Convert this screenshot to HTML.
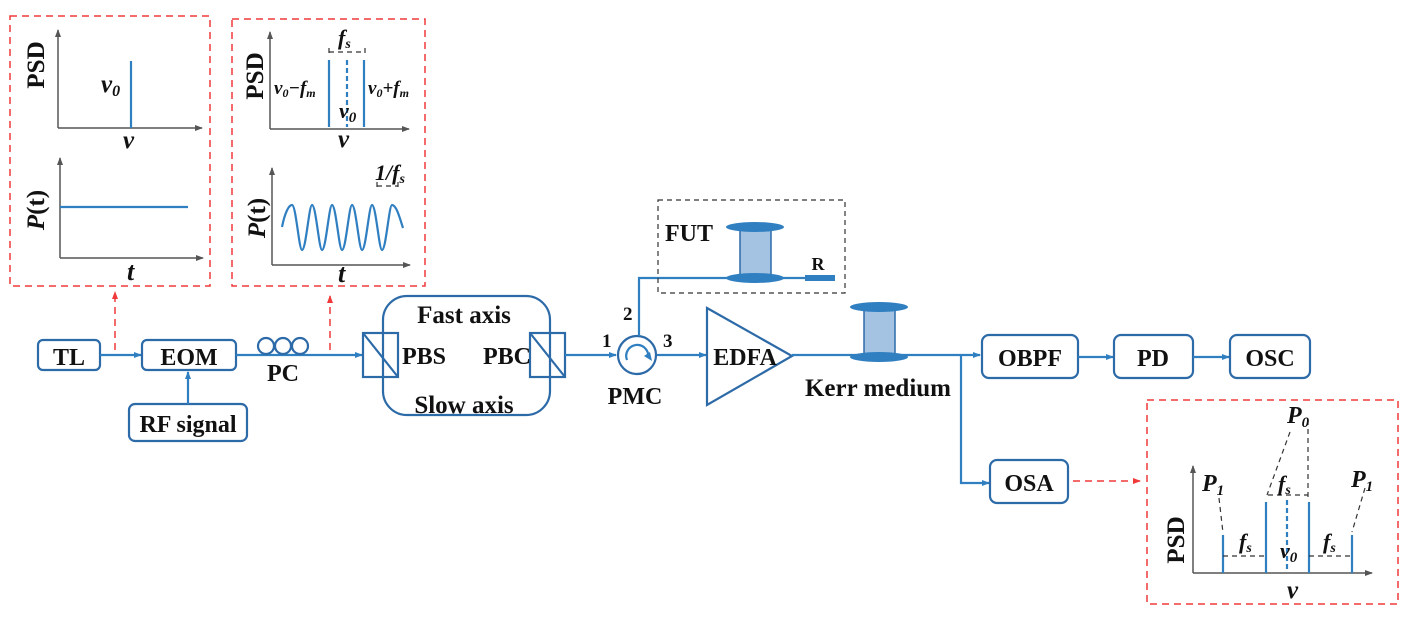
<!DOCTYPE html>
<html><head><meta charset="utf-8"><style>
html,body{margin:0;padding:0;background:#fff}
svg{display:block}
text{font-family:"Liberation Serif",serif;font-weight:bold;fill:#111}
.b{fill:none;stroke:#2d6aa8;stroke-width:2.2}
.l{stroke:#2f7fc1;stroke-width:2.2;fill:none}
.ax{stroke:#555;stroke-width:1.5;fill:none}
.rd{fill:none;stroke:#f03a3a;stroke-width:1.5;stroke-dasharray:7,5}
.kd{fill:none;stroke:#333;stroke-width:1.2;stroke-dasharray:5,4}
.it{font-style:italic}
</style></head><body>
<svg width="1417" height="625" viewBox="0 0 1417 625">
<defs>
<marker id="ab" markerWidth="8" markerHeight="8" refX="7" refY="4" orient="auto" markerUnits="userSpaceOnUse"><path d="M0,1 L8,4 L0,7 Z" fill="#2f7fc1"/></marker>
<marker id="ag" markerWidth="8" markerHeight="8" refX="7" refY="4" orient="auto" markerUnits="userSpaceOnUse"><path d="M0,1 L8,4 L0,7 Z" fill="#555"/></marker>
<marker id="ar" markerWidth="8" markerHeight="8" refX="7" refY="4" orient="auto" markerUnits="userSpaceOnUse"><path d="M0,1 L8,4 L0,7 Z" fill="#f03a3a"/></marker>
</defs>

<!-- Box 1 -->
<rect x="10" y="16" width="200" height="270" class="rd"/>
<line x1="58" y1="128" x2="58" y2="30" class="ax" marker-end="url(#ag)"/>
<line x1="58" y1="128" x2="202" y2="128" class="ax" marker-end="url(#ag)"/>
<line x1="131" y1="61" x2="131" y2="128" class="l" stroke-width="1.5"/>
<text x="101" y="92" font-size="25" class="it">v<tspan font-size="16" dy="4">0</tspan></text>
<text x="123" y="148" font-size="25" class="it">v</text>
<text transform="translate(44,65) rotate(-90)" font-size="25" text-anchor="middle">PSD</text>
<line x1="60" y1="258" x2="60" y2="158" class="ax" marker-end="url(#ag)"/>
<line x1="60" y1="258" x2="203" y2="258" class="ax" marker-end="url(#ag)"/>
<line x1="60" y1="207" x2="188" y2="207" class="l" stroke-width="1.5"/>
<text x="127" y="280" font-size="26" class="it">t</text>
<text transform="translate(44,210) rotate(-90)" font-size="25" text-anchor="middle"><tspan class="it">P</tspan>(t)</text>

<!-- Box 2 -->
<rect x="232" y="19" width="193" height="267" class="rd"/>
<line x1="270" y1="129" x2="270" y2="32" class="ax" marker-end="url(#ag)"/>
<line x1="270" y1="129" x2="409" y2="129" class="ax" marker-end="url(#ag)"/>
<line x1="329" y1="60" x2="329" y2="127" class="l" stroke-width="1.5"/>
<line x1="364" y1="60" x2="364" y2="127" class="l" stroke-width="1.5"/>
<line x1="347" y1="60" x2="347" y2="127" class="l" stroke-width="1.5" stroke-dasharray="5,3"/>
<path d="M329,48 V55 M365,48 V55 M329,52 H365" class="kd"/>
<text x="338" y="45" font-size="22" class="it">f<tspan font-size="14" dy="3">s</tspan></text>
<text x="274" y="94" font-size="19" class="it" font-weight="normal">v<tspan font-size="12" dy="3">0</tspan><tspan dy="-3">−f</tspan><tspan font-size="12" dy="3">m</tspan></text>
<text x="368" y="94" font-size="19" class="it" font-weight="normal">v<tspan font-size="12" dy="3">0</tspan><tspan dy="-3">+f</tspan><tspan font-size="12" dy="3">m</tspan></text>
<text x="339" y="118" font-size="22" class="it">v<tspan font-size="15" dy="4">0</tspan></text>
<text x="338" y="147" font-size="25" class="it">v</text>
<text transform="translate(263,76) rotate(-90)" font-size="25" text-anchor="middle">PSD</text>
<line x1="272" y1="265" x2="272" y2="168" class="ax" marker-end="url(#ag)"/>
<line x1="272" y1="265" x2="410" y2="265" class="ax" marker-end="url(#ag)"/>
<path d="M282,227 C285,212 289,205 292,205 C296,205 299,250 302,250 C306,250 309,205 312,205 C316,205 319,250 322,250 C326,250 329,205 332,205 C336,205 339,250 342,250 C346,250 349,205 352,205 C356,205 359,250 362,250 C366,250 369,205 372,205 C376,205 379,250 382,250 C386,250 389,205 392,205 C396,205 399,215 403,228" class="l" stroke-width="1.5"/>
<path d="M377,182 V189 M398,182 V189 M377,186 H398" class="kd"/>
<text x="375" y="180" font-size="22" class="it">1/f<tspan font-size="14" dy="3">s</tspan></text>
<text x="338" y="282" font-size="26" class="it">t</text>
<text transform="translate(265,218) rotate(-90)" font-size="25" text-anchor="middle"><tspan class="it">P</tspan>(t)</text>

<!-- red dashed arrows -->
<line x1="115" y1="350" x2="115" y2="292" class="rd" marker-end="url(#ar)"/>
<line x1="330" y1="350" x2="330" y2="296" class="rd" marker-end="url(#ar)"/>

<!-- main line -->
<rect x="38" y="340" width="62" height="30" rx="5" class="b"/>
<text x="69" y="365" font-size="24" text-anchor="middle">TL</text>
<line x1="100" y1="355" x2="141" y2="355" class="l" marker-end="url(#ab)"/>
<rect x="142" y="340" width="94" height="30" rx="5" class="b"/>
<text x="189" y="365" font-size="24" text-anchor="middle">EOM</text>
<rect x="129" y="404" width="118" height="37" rx="6" class="b"/>
<text x="188" y="432" font-size="24" text-anchor="middle">RF signal</text>
<line x1="188" y1="404" x2="188" y2="372" class="l" marker-end="url(#ab)"/>
<line x1="236" y1="355" x2="362" y2="355" class="l" marker-end="url(#ab)"/>
<circle cx="266" cy="346" r="8" class="b"/><circle cx="283" cy="346" r="8" class="b"/><circle cx="300" cy="346" r="8" class="b"/>
<text x="283" y="381" font-size="24" text-anchor="middle">PC</text>

<rect x="383" y="296" width="167" height="119" rx="24" class="b"/>
<rect x="363" y="333" width="35" height="44" fill="#fff" class="b"/>
<line x1="363" y1="333" x2="398" y2="377" class="b"/>
<rect x="530" y="333" width="35" height="44" fill="#fff" class="b"/>
<line x1="530" y1="333" x2="565" y2="377" class="b"/>
<text x="424" y="364" font-size="24" text-anchor="middle">PBS</text>
<text x="507" y="364" font-size="24" text-anchor="middle">PBC</text>
<text x="464" y="323" font-size="25" text-anchor="middle">Fast axis</text>
<text x="464" y="413" font-size="25" text-anchor="middle">Slow axis</text>

<line x1="565" y1="355" x2="616" y2="355" class="l" marker-end="url(#ab)"/>
<circle cx="637" cy="355" r="19" class="b"/>
<path d="M627,360 A11,11 0 1 1 648,358" class="l" stroke-width="2.5"/>
<path d="M644,356 L650,352 L652,361 Z" fill="#2f7fc1"/>
<text x="602" y="347" font-size="19">1</text>
<text x="623" y="320" font-size="19">2</text>
<text x="663" y="347" font-size="19">3</text>
<text x="635" y="404" font-size="24" text-anchor="middle">PMC</text>
<polyline points="639,336 639,278 806,278" class="l"/>
<rect x="658" y="200" width="187" height="93" class="kd" stroke-width="1.5"/>
<text x="665" y="241" font-size="24">FUT</text>
<rect x="740" y="227" width="31" height="50" fill="#a4c3e3" stroke="#2d6aa8" stroke-width="1.5"/>
<ellipse cx="755" cy="227" rx="29" ry="5" fill="#2f7fc1"/>
<ellipse cx="755" cy="278" rx="29" ry="5" fill="#2f7fc1"/>
<rect x="805" y="275" width="30" height="6" fill="#2f7fc1"/>
<text x="818" y="270" font-size="18" text-anchor="middle">R</text>

<line x1="657" y1="355" x2="706" y2="355" class="l" marker-end="url(#ab)"/>
<polygon points="707,308 792,356 707,405" class="b"/>
<text x="745" y="365" font-size="24" text-anchor="middle">EDFA</text>
<line x1="792" y1="355" x2="980" y2="355" class="l" marker-end="url(#ab)"/>
<rect x="864" y="307" width="31" height="50" fill="#a4c3e3" stroke="#2d6aa8" stroke-width="1.5"/>
<ellipse cx="879" cy="307" rx="29" ry="5" fill="#2f7fc1"/>
<ellipse cx="879" cy="357" rx="29" ry="5" fill="#2f7fc1"/>
<text x="878" y="396" font-size="25" text-anchor="middle">Kerr medium</text>
<polyline points="961,355 961,483 989,483" class="l" marker-end="url(#ab)"/>

<rect x="982" y="335" width="96" height="43" rx="7" class="b"/>
<text x="1030" y="366" font-size="24" text-anchor="middle">OBPF</text>
<line x1="1078" y1="357" x2="1113" y2="357" class="l" marker-end="url(#ab)"/>
<rect x="1114" y="335" width="79" height="43" rx="7" class="b"/>
<text x="1153" y="366" font-size="24" text-anchor="middle">PD</text>
<line x1="1193" y1="357" x2="1229" y2="357" class="l" marker-end="url(#ab)"/>
<rect x="1230" y="335" width="80" height="43" rx="7" class="b"/>
<text x="1270" y="366" font-size="24" text-anchor="middle">OSC</text>
<rect x="990" y="460" width="78" height="43" rx="7" class="b"/>
<text x="1029" y="491" font-size="24" text-anchor="middle">OSA</text>
<line x1="1073" y1="481" x2="1140" y2="481" class="rd" marker-end="url(#ar)"/>

<!-- Box 3 -->
<rect x="1147" y="400" width="251" height="204" class="rd"/>
<line x1="1193" y1="573" x2="1193" y2="466" class="ax" marker-end="url(#ag)"/>
<line x1="1193" y1="573" x2="1372" y2="573" class="ax" marker-end="url(#ag)"/>
<g class="l" stroke-width="1.5">
<line x1="1223" y1="535" x2="1223" y2="573"/>
<line x1="1266" y1="502" x2="1266" y2="573"/>
<line x1="1309" y1="502" x2="1309" y2="573"/>
<line x1="1352" y1="535" x2="1352" y2="573"/>
<line x1="1287" y1="500" x2="1287" y2="569" stroke-dasharray="5,3"/>
</g>
<path d="M1223,556 H1266 M1309,556 H1352 M1268,495 H1308 M1219,498 L1223,533 M1365,488 L1352,532 M1290,432 L1267,495 M1308,420 V500" class="kd"/>
<text x="1202" y="491" font-size="24" class="it">P<tspan font-size="15" dy="4">1</tspan></text>
<text x="1351" y="487" font-size="24" class="it">P<tspan font-size="15" dy="4">1</tspan></text>
<text x="1287" y="423" font-size="24" class="it">P<tspan font-size="15" dy="4">0</tspan></text>
<text x="1239" y="549" font-size="22" class="it">f<tspan font-size="14" dy="3">s</tspan></text>
<text x="1323" y="549" font-size="22" class="it">f<tspan font-size="14" dy="3">s</tspan></text>
<text x="1278" y="491" font-size="22" class="it">f<tspan font-size="14" dy="3">s</tspan></text>
<text x="1280" y="558" font-size="22" class="it">v<tspan font-size="15" dy="4">0</tspan></text>
<text x="1287" y="598" font-size="25" class="it">v</text>
<text transform="translate(1184,540) rotate(-90)" font-size="25" text-anchor="middle">PSD</text>
</svg>
</body></html>
